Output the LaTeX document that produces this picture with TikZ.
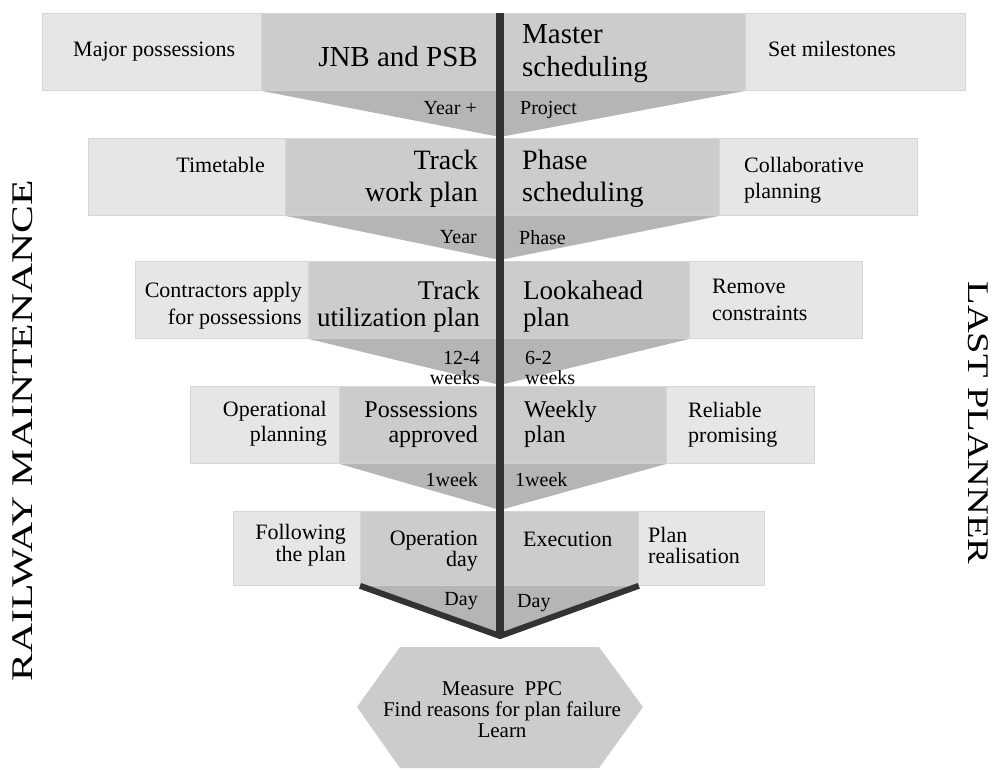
\documentclass[tikz,border=0pt]{standalone}
\usepackage{fontspec}
\setmainfont{Liberation Serif}
\usepackage{graphicx}
\definecolor{boxlight}{RGB}{230,230,230}
\definecolor{boxmid}{RGB}{204,204,204}
\definecolor{boxedge}{RGB}{214,214,214}
\definecolor{funnelgray}{RGB}{181,181,181}
\definecolor{spinegray}{RGB}{51,51,51}

\begin{document}
\begin{tikzpicture}[x=1pt, y=-1pt,
  outbox/.style={draw=boxedge, fill=boxlight, line width=0.8pt, anchor=north west, inner sep=0pt},
  midbox/.style={draw=boxedge, fill=boxmid, line width=0.8pt, anchor=north west, inner sep=0pt},
  funnel/.style={fill=funnelgray},
  spine/.style={draw=spinegray, line width=8.5pt},
  sidetxt/.style={font=\fontsize{22}{26}\selectfont, inner sep=0pt},
  lbl/.style={font=\fontsize{20}{20}\selectfont, inner sep=0pt},
]
\useasboundingbox (0,0) rectangle (1000,769);

% Row 1: master level
\node[outbox, minimum width=923pt, minimum height=77pt] (out1) at (42,13) {};
\node[midbox, minimum width=484pt, minimum height=77pt] (mid1) at (261,13) {};
\coordinate (tip1) at (500,137);
\fill[funnel] (mid1.south west) -- (mid1.south east) -- (tip1) -- cycle;

% Row 2: phase level
\node[outbox, minimum width=829pt, minimum height=77pt] (out2) at (88,138) {};
\node[midbox, minimum width=434pt, minimum height=77pt] (mid2) at (285,138) {};
\coordinate (tip2) at (500,260);
\fill[funnel] (mid2.south west) -- (mid2.south east) -- (tip2) -- cycle;

% Row 3: lookahead level
\node[outbox, minimum width=727pt, minimum height=77pt] (out3) at (135,261) {};
\node[midbox, minimum width=381pt, minimum height=77pt] (mid3) at (308,261) {};
\coordinate (tip3) at (500,385);
\fill[funnel] (mid3.south west) -- (mid3.south east) -- (tip3) -- cycle;

% Row 4: weekly level
\node[outbox, minimum width=624pt, minimum height=77pt] (out4) at (190,386) {};
\node[midbox, minimum width=327pt, minimum height=77pt] (mid4) at (339,386) {};
\coordinate (tip4) at (500,510);
\fill[funnel] (mid4.south west) -- (mid4.south east) -- (tip4) -- cycle;

% Row 5: day level
\node[outbox, minimum width=531pt, minimum height=74pt] (out5) at (233,511) {};
\node[midbox, minimum width=278pt, minimum height=74pt] (mid5) at (360,511) {};
\coordinate (tip5) at (500,636);
\fill[funnel] (mid5.south west) -- (mid5.south east) -- (tip5) -- cycle;

% Spine and closing V
\coordinate (top) at (500,13);
\draw[spine] (top) -- (tip5);
\draw[spinegray, line width=6pt, line join=miter] (mid5.south west) -- (tip5) -- (mid5.south east);

% Review hexagon
\fill[boxmid] (400,647) -- (599,647) -- (643,707) -- (599,768) -- (400,768) -- (357,707) -- cycle;
\node[font=\fontsize{21}{21}\selectfont, inner sep=0pt, align=center, anchor=north] (review) at (502,681)
  {Measure\ \ PPC\\Find reasons for plan failure\\Learn};

% Row 1 texts
\node[sidetxt, anchor=north west] (majpos) at (73,42) {Major possessions};
\node[font=\fontsize{29}{33}\selectfont, inner sep=0pt, anchor=north east] (jnb) at (478,46) {JNB and PSB};
\node[font=\fontsize{29}{33}\selectfont, inner sep=0pt, anchor=north west, align=left] (master) at (522,24) {Master\\scheduling};
\node[sidetxt, anchor=north west] (milest) at (768,41) {Set milestones};
\node[lbl, anchor=north east] (yearplus) at (477,101) {Year +};
\node[lbl, anchor=north west] (project) at (520,101) {Project};

% Row 2 texts
\node[sidetxt, anchor=north east] (timetab) at (265,157) {Timetable};
\node[font=\fontsize{28}{32}\selectfont, inner sep=0pt, anchor=north east, align=right] (twp) at (478,150) {Track\\work plan};
\node[font=\fontsize{28}{32}\selectfont, inner sep=0pt, anchor=north west, align=left] (phsched) at (522,150) {Phase\\scheduling};
\node[sidetxt, anchor=north west, align=left] (collab) at (744,157) {Collaborative\\planning};
\node[lbl, anchor=north east] (year) at (477,230) {Year};
\node[lbl, anchor=north west] (phase) at (519,230) {Phase};

% Row 3 texts
\node[font=\fontsize{22}{27}\selectfont, inner sep=0pt, anchor=north east, align=right] (contr) at (302,282) {Contractors apply\\for possessions};
\node[font=\fontsize{27}{27}\selectfont, inner sep=0pt, anchor=north east, align=right] (tup) at (480,281) {Track\\utilization plan};
\node[font=\fontsize{27}{27}\selectfont, inner sep=0pt, anchor=north west, align=left] (lookah) at (523,281) {Lookahead\\plan};
\node[font=\fontsize{22}{27}\selectfont, inner sep=0pt, anchor=north west, align=left] (remove) at (712,279) {Remove\\constraints};
\node[lbl, anchor=north east, align=right] (wk124) at (480,351) {12-4\\weeks};
\node[lbl, anchor=north west, align=left] (wk62) at (525,351) {6-2\\weeks};

% Row 4 texts
\node[font=\fontsize{22}{25}\selectfont, inner sep=0pt, anchor=north east, align=right] (opplan) at (327,401) {Operational\\planning};
\node[font=\fontsize{24}{25}\selectfont, inner sep=0pt, anchor=north east, align=right] (possapp) at (478,401) {Possessions\\approved};
\node[font=\fontsize{24}{25}\selectfont, inner sep=0pt, anchor=north west, align=left] (weekly) at (524,401) {Weekly\\plan};
\node[font=\fontsize{22}{25}\selectfont, inner sep=0pt, anchor=north west, align=left] (reliab) at (688,402) {Reliable\\promising};
\node[lbl, anchor=north east] (wkl) at (478,472) {1week};
\node[lbl, anchor=north west] (wkr) at (515,472) {1week};

% Row 5 texts
\node[font=\fontsize{22}{22}\selectfont, inner sep=0pt, anchor=north east, align=right] (follow) at (346,524) {Following\\the plan};
\node[font=\fontsize{22}{19}\selectfont, inner sep=0pt, anchor=north east, align=right] (opday) at (478,531) {Operation\\day};
\node[font=\fontsize{22}{22}\selectfont, inner sep=0pt, anchor=north west] (exec) at (523,532) {Execution};
\node[font=\fontsize{22}{21}\selectfont, inner sep=0pt, anchor=north west, align=left] (realis) at (648,527) {Plan\\realisation};
\node[lbl, anchor=north east] (dayl) at (478,592) {Day};
\node[lbl, anchor=north west] (dayr) at (517,594) {Day};

% Side titles
\node[font=\fontsize{30}{30}\selectfont, inner sep=0pt, rotate=90] (railway) at (23,431)
  {\scalebox{1.39}[1]{RAILWAY MAINTENANCE}};
\node[font=\fontsize{30}{30}\selectfont, inner sep=0pt, rotate=-90] (lastpl) at (978,423)
  {\scalebox{1.28}[1]{LAST PLANNER}};
\end{tikzpicture}
\end{document}
